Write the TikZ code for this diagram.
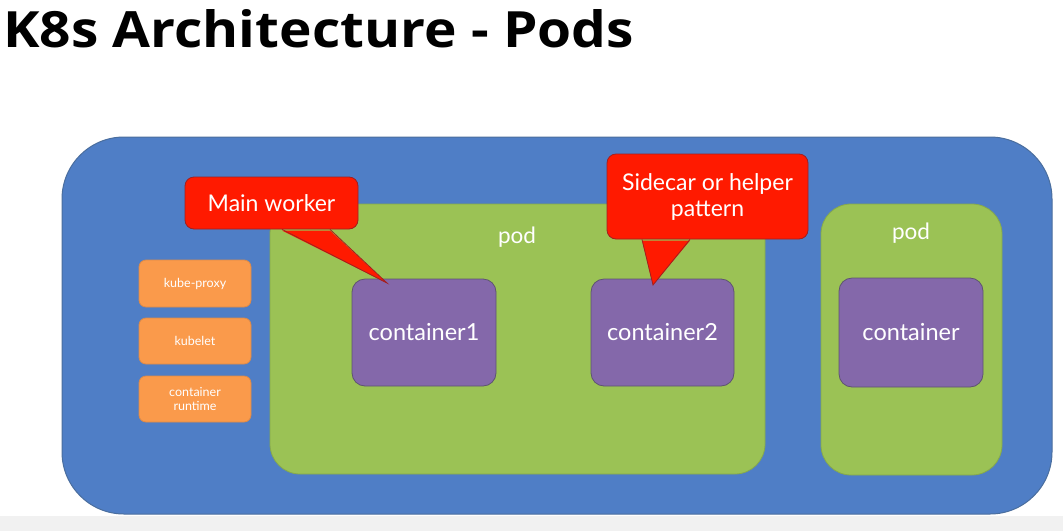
\documentclass[tikz,border=0pt]{standalone}
\usepackage{fontspec}
\setmainfont{Lato}
\newfontfamily\titlefont{Open Sans}
\definecolor{nodeblue}{HTML}{4F7EC6}
\definecolor{nodeblueB}{HTML}{4A6E9E}
\definecolor{podgreen}{HTML}{9BC255}
\definecolor{podgreenB}{HTML}{86A94C}
\definecolor{ctpurple}{HTML}{8468AA}
\definecolor{ctpurpleB}{HTML}{5E5470}
\definecolor{kborange}{HTML}{FA9A4B}
\definecolor{kborangeB}{HTML}{DB8A4A}
\definecolor{calred}{HTML}{FF1A00}
\definecolor{calredB}{HTML}{A02020}
\definecolor{stripgray}{HTML}{F1F1F1}
\tikzset{
  worker/.style={draw=nodeblueB, line width=1pt, fill=nodeblue, rounded corners=62pt},
  podbox/.style={draw=podgreenB, line width=0.8pt, fill=podgreen, rounded corners=30pt},
  ctbox/.style={draw=ctpurpleB, line width=0.8pt, fill=ctpurple, rounded corners=13pt,
    text=white, font=\fontsize{23.5}{28}\selectfont, inner sep=0pt},
  kbox/.style={draw=kborangeB, line width=0.8pt, fill=kborange, rounded corners=7pt,
    text=white, font=\fontsize{12.5}{15}\selectfont, align=center, inner sep=0pt,
    minimum width=112pt},
  callbox/.style={draw=calredB, line width=0.8pt, fill=calred, rounded corners=9pt,
    text=white, font=\fontsize{23}{26}\selectfont, align=center, inner sep=0pt},
  calltip/.style={fill=calred},
  calledge/.style={draw=calredB, line width=0.8pt},
  podlabel/.style={text=white, font=\fontsize{22.5}{26}\selectfont, inner sep=0pt}
}
\begin{document}
\begin{tikzpicture}[x=1pt,y=-1pt]
\useasboundingbox (0,0) rectangle (1063,531);
\fill[white] (0,0) rectangle (1063,531);
\fill[stripgray] (0,516) rectangle (1063,531);

\node[anchor=west, inner sep=0pt, font=\titlefont\bfseries\fontsize{50}{56}\selectfont] (title) at (3,29) {\scalebox{1.1}[1]{K8s Architecture - Pods}};

% worker node
\node[worker, minimum width=990pt, minimum height=377pt] (worker) at (557,325.5) {};

% orange components
\node[kbox, minimum height=47pt] (kproxy) at (195,283.5) {kube-proxy};
\node[kbox, minimum height=46pt] (kubelet) at (195,341) {kubelet};
\node[kbox, minimum height=46pt] (runtime) at (195,399) {container\\[-1pt]runtime};

% pods
\node[podbox, minimum width=495pt, minimum height=270pt] (pod1) at (517.5,339) {};
\node[podbox, minimum width=181pt, minimum height=271pt] (pod2) at (911.5,339.5) {};
\node[podlabel] (pod1lab) at (517,237) {pod};
\node[podlabel] (pod2lab) at (911,233) {pod};

% containers
\node[ctbox, minimum width=144pt, minimum height=107pt] (c1) at (424,332.5) {container1};
\node[ctbox, minimum width=143pt, minimum height=107pt] (c2) at (662.5,332.5) {container2};
\node[ctbox, minimum width=144pt, minimum height=109pt] (c3) at (911,332.5) {container};

% callouts
\coordinate (tip1) at (387,283);
\coordinate (tip2) at (653,285);
\node[callbox, minimum width=173pt, minimum height=52pt] (call1) at (271.5,203) {Main worker};
\node[callbox, minimum width=201pt, minimum height=85pt] (call2) at (707.5,196.5) {Sidecar or helper\\pattern};

\coordinate (b1a) at ([xshift=10.5pt]call1.south);
\coordinate (b1b) at ([xshift=58.5pt]call1.south);
\coordinate (b2a) at ([xshift=-65.5pt]call2.south);
\coordinate (b2b) at ([xshift=-17.5pt]call2.south);
\fill[calltip] ([yshift=-1.2pt]b1a) -- (tip1) -- ([yshift=-1.2pt]b1b) -- cycle;
\draw[calledge] (b1a) -- (tip1) -- (b1b);
\fill[calltip] ([yshift=-1.2pt]b2a) -- (tip2) -- ([yshift=-1.2pt]b2b) -- cycle;
\draw[calledge] (b2a) -- (tip2) -- (b2b);
\end{tikzpicture}
\end{document}
